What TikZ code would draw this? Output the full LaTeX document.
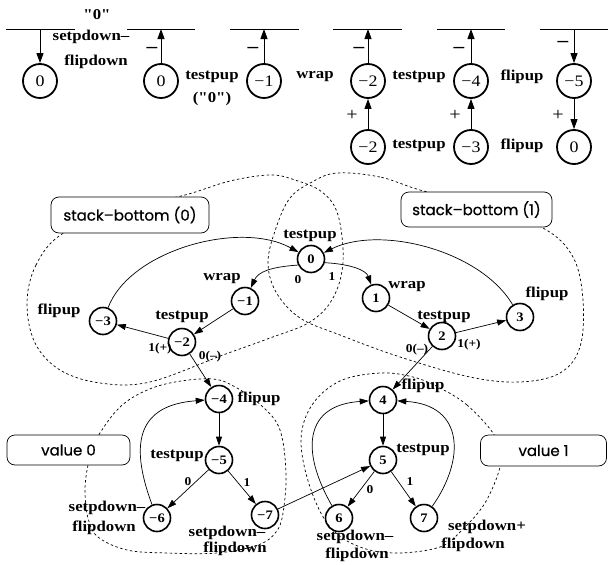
\documentclass[tikz,border=0pt]{standalone}
\usepackage{fontspec}
\setmainfont{Liberation Serif}[FakeStretch=1.12]
\newfontfamily\qfont{Liberation Serif}[FakeStretch=1.12]
\newfontfamily\boxfont{Poppins}[FakeBold=0.5]
\usetikzlibrary{arrows.meta}
\begin{document}
\begin{tikzpicture}[x=1pt,y=-1pt,
 lab/.style={font=\bfseries\fontsize{15}{15}\selectfont, inner sep=0pt},
 elab/.style={font=\bfseries\fontsize{12}{12}\selectfont, inner sep=0pt},
 sgn/.style={font=\bfseries\fontsize{19}{19}\selectfont, inner sep=0pt},
 pls/.style={font=\fontsize{18}{18}\selectfont, inner sep=0pt},
 tnode/.style={circle, draw, line width=1.8pt, minimum size=34pt, inner sep=0pt, font=\fontsize{16}{16}\selectfont},
 snode/.style={circle, draw, line width=1.6pt, minimum size=27pt, inner sep=0pt, font=\bfseries\fontsize{13}{13}\selectfont},
 tarr/.style={-{Triangle[length=10pt,width=7pt]}, line width=0.9pt},
 earr/.style={-{Triangle[length=9pt,width=6pt]}, line width=0.7pt},
 hline/.style={line width=0.8pt},
 blob/.style={dash pattern=on 2.5pt off 2.5pt, line width=0.7pt},
 lbox/.style={draw, rounded corners=8pt, fill=white, line width=0.7pt, inner sep=0pt, font=\boxfont\fontsize{15}{15}\selectfont}
]
\useasboundingbox (0,0) rectangle (608,565);

% ---------- top strip ----------
\coordinate (h1a) at (6,29);   \coordinate (h1b) at (75,29);
\coordinate (h2a) at (127,29); \coordinate (h2b) at (195,29);
\coordinate (h3a) at (230,29); \coordinate (h3b) at (299,29);
\coordinate (h4a) at (333,29); \coordinate (h4b) at (402,29);
\coordinate (h5a) at (437,29); \coordinate (h5b) at (505,29);
\coordinate (h6a) at (540,29); \coordinate (h6b) at (608,29);
\foreach \i in {1,...,6} {\draw[hline] (h\i a) -- (h\i b);}

\coordinate (l1) at (40,29);
\coordinate (l2) at (161,29);
\coordinate (l3) at (264,29);
\coordinate (l4) at (368,29);
\coordinate (l5) at (471,29);
\coordinate (l6) at (574,29);

\node[tnode] (t1) at (40,81) {0};
\node[tnode] (t2) at (161,81) {0};
\node[tnode] (t3) at (264,81) {−1};
\node[tnode] (t4) at (368,81) {−2};
\node[tnode] (t5) at (471,81) {−4};
\node[tnode] (t6) at (574,81) {−5};
\node[tnode] (b4) at (368,147) {−2};
\node[tnode] (b5) at (471,147) {−3};
\node[tnode] (b6) at (574,147) {0};

\draw[tarr] (l1) -- (t1);
\draw[tarr] (t2) -- (l2);
\draw[tarr] (t3) -- (l3);
\draw[tarr] (t4) -- (l4);
\draw[tarr] (t5) -- (l5);
\draw[tarr] (l6) -- (t6);
\draw[tarr] (b4) -- (t4);
\draw[tarr] (b5) -- (t5);
\draw[tarr] (t6) -- (b6);

\node[sgn] (m2) at (152,50) {–};
\node[sgn] (m3) at (253,50) {–};
\node[sgn] (m4) at (359,50) {–};
\node[sgn] (m5) at (459,50) {–};
\node[sgn] (m6) at (563,44) {–};
\node[pls] (p4s) at (352,115) {+};
\node[pls] (p5s) at (455,115) {+};
\node[pls] (p6s) at (558,115) {+};

\node[lab] (q0) at (97,15) {\qfont\bfseries "0"};
\node[lab] (sd1) at (91,37) {setpdown–};
\node[lab] (fd1) at (96,62) {flipdown};
\node[lab] (tp1) at (212,77) {testpup};
\node[lab] (q1) at (212,99) {\qfont\bfseries ("0")};
\node[lab] (wr1) at (315,77) {wrap};
\node[lab] (tp2) at (419,77) {testpup};
\node[lab] (fu1) at (522,77) {flipup};
\node[lab] (tp3) at (419,146) {testpup};
\node[lab] (fu2) at (522,146) {flipup};

% ---------- dashed regions ----------
\draw[blob] plot[smooth cycle, tension=0.6] coordinates {
 (62,234) (36,265) (27,303) (35,343) (60,370) (100,383) (150,382)
 (223,355) (270,338) (310,322) (333,298) (343,262) (338,215) (322,192)
 (295,180) (270,175) (230,181) (185,195) (120,210)};
\draw[blob] plot[smooth cycle, tension=0.6] coordinates {
 (420,190) (380,177) (337,173) (312,182) (290,198) (276,228) (268,262)
 (276,292) (300,318) (340,335) (400,357) (470,377) (520,382) (560,373)
 (580,347) (583,300) (573,257) (543,228) (480,205)};
\draw[blob] plot[smooth cycle, tension=0.6] coordinates {
 (100,433) (120,407) (145,391) (175,382) (213,379) (237,388) (263,407)
 (280,430) (286,473) (283,513) (276,532) (258,545) (217,553) (167,553)
 (127,550) (98,537) (88,518) (85,490) (88,465) (93,450)};
\draw[blob] plot[smooth cycle, tension=0.6] coordinates {
 (493,433) (467,405) (440,388) (413,377) (380,373) (340,381) (312,405)
 (301,440) (310,487) (330,527) (360,547) (397,553) (440,547) (462,530)
 (485,503) (500,467) (497,450)};

% ---------- boxes ----------
\node[lbox, minimum width=158pt, minimum height=36pt] (sb0) at (130,215) {stack–bottom (0)};
\node[lbox, minimum width=151pt, minimum height=35pt] (sb1) at (476.5,209.5) {stack–bottom (1)};
\node[lbox, minimum width=123pt, minimum height=30pt] (v0) at (68.5,450) {value 0};
\node[lbox, minimum width=126pt, minimum height=31pt] (v1) at (543.5,450.5) {value 1};

% ---------- lower nodes ----------
\node[snode] (n0)  at (311,259) {0};
\node[snode] (nm1) at (245,301) {−1};
\node[snode] (nm2) at (182,342) {−2};
\node[snode] (nm3) at (103,321) {−3};
\node[snode] (p1)  at (376,298) {1};
\node[snode] (p2)  at (442,336) {2};
\node[snode] (p3)  at (520,317) {3};
\node[snode] (nm4) at (219,399) {−4};
\node[snode] (nm5) at (219,460) {−5};
\node[snode] (nm6) at (157,518) {−6};
\node[snode] (nm7) at (265,515) {−7};
\node[snode] (p4)  at (383,400) {4};
\node[snode] (p5)  at (383,460) {5};
\node[snode] (p6)  at (339,518) {6};
\node[snode] (p7)  at (424,518) {7};

% ---------- edges ----------
\draw[earr] (n0.205) .. controls (270,267) and (258,272) .. (nm1);
\draw[earr] (n0.-15) .. controls (350,264) and (366,270) .. (p1);
\draw[earr] (nm3) .. controls (130,250) and (240,220) .. (n0);
\draw[earr] (p3) .. controls (480,250) and (380,225) .. (n0);
\draw[earr] (nm1) -- (nm2);
\draw[earr] (nm2) -- (nm3);
\draw[earr] (p1) -- (p2);
\draw[earr] (p2) -- (p3);
\draw[earr] (nm2) -- (nm4);
\draw[earr] (p2) -- (p4);
\draw[earr] (nm4) -- (nm5);
\draw[earr] (nm5) -- (nm6);
\draw[earr] (nm5) -- (nm7);
\draw[earr] (nm6) .. controls (128,440) and (140,405) .. (nm4);
\draw[earr] (nm7) -- (p5);
\draw[earr] (p4) -- (p5);
\draw[earr] (p5) -- (p6);
\draw[earr] (p5) -- (p7);
\draw[earr] (p6) .. controls (300,450) and (305,405) .. (p4);
\draw[earr] (p7) .. controls (465,460) and (465,405) .. (p4);

% ---------- lower labels ----------
\node[lab] (L1) at (310,236) {testpup};
\node[lab] (L2) at (222,279) {wrap};
\node[lab] (L3) at (59,311) {flipup};
\node[lab] (L4) at (182,317) {testpup};
\node[lab] (L5) at (407,287) {wrap};
\node[lab] (L6) at (444,317) {testpup};
\node[lab] (L7) at (547,294) {flipup};
\node[lab] (L8) at (259,399) {flipup};
\node[lab] (L9) at (177,456) {testpup};
\node[lab] (L10) at (107,508) {setpdown–};
\node[lab] (L11) at (104,528) {flipdown};
\node[lab] (L12) at (227,533) {setpdown–};
\node[lab] (L13) at (235,549) {flipdown};
\node[lab] (L14) at (423,386) {flipup};
\node[lab] (L15) at (423,450) {testpup};
\node[lab] (L16) at (355,537) {setpdown–};
\node[lab] (L17) at (357,555) {flipdown};
\node[lab] (L18) at (487,527) {setpdown+};
\node[lab] (L19) at (473,545) {flipdown};

\node[elab] (e1) at (298,280) {0};
\node[elab] (e2) at (332,277) {1};
\node[elab] (e3) at (160,349) {1(+)};
\node[elab] (e4) at (210,357) {0(–)};
\node[elab] (e5) at (417,350) {0(–)};
\node[elab] (e6) at (469,345) {1(+)};
\node[elab] (e7) at (188,482) {0};
\node[elab] (e8) at (247,483) {1};
\node[elab] (e9) at (370,490) {0};
\node[elab] (e10) at (410,482) {1};
\end{tikzpicture}
\end{document}
